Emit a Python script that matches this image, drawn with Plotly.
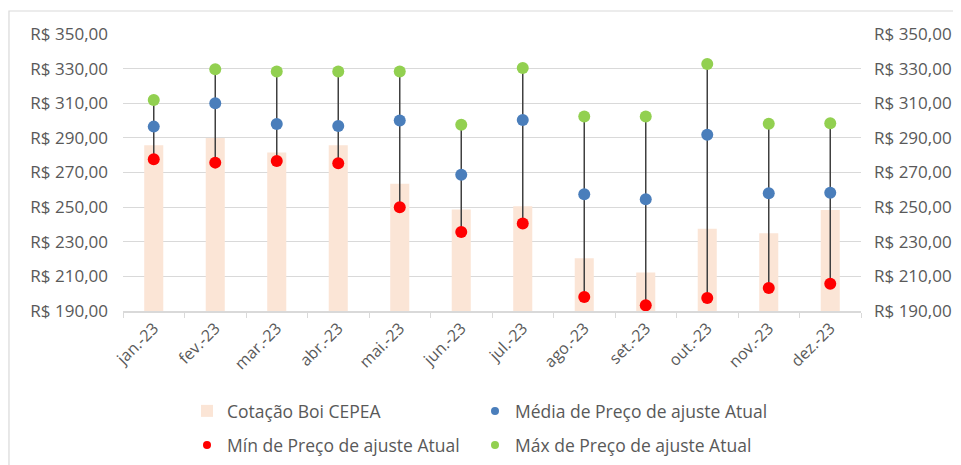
import plotly.graph_objects as go

months = ["jan.-23", "fev.-23", "mar.-23", "abr.-23", "mai.-23", "jun.-23",
          "jul.-23", "ago.-23", "set.-23", "out.-23", "nov.-23", "dez.-23"]
cepea = [285.7, 289.9, 281.6, 285.7, 263.5, 248.7, 250.5, 220.4, 212.3, 237.5, 234.9, 248.3]
media = [296.5, 310.0, 298.0, 296.9, 300.1, 268.7, 300.3, 257.4, 254.5, 291.8, 258.0, 258.3]
minimo = [277.6, 275.7, 276.6, 275.3, 249.9, 235.6, 240.6, 198.1, 193.3, 197.5, 203.3, 205.8]
maximo = [311.9, 329.6, 328.4, 328.4, 328.4, 297.6, 330.4, 302.4, 302.4, 332.7, 298.2, 298.4]
tick_vals = [190, 210, 230, 250, 270, 290, 310, 330, 350]
tick_text = ["R$ 190,00", "R$ 210,00", "R$ 230,00", "R$ 250,00", "R$ 270,00",
             "R$ 290,00", "R$ 310,00", "R$ 330,00", "R$ 350,00"]

FONT = "Open Sans"
GRAY = "#595959"
C_BAR, C_MED, C_MIN, C_MAX = "#FBE5D6", "#4A7EBB", "#FF0000", "#92D050"

# page body has an 8px margin; figure size/margins compensate for it
W, H, OFF = 953, 457, 8

# vertical range lines from min to max
lx, ly = [], []
for m, lo, hi in zip(months, minimo, maximo):
    lx += [m, m, None]
    ly += [lo, hi, None]

fig = go.Figure()
fig.add_trace(go.Bar(x=months, y=cepea, name="Cotação Boi CEPEA",
                     marker=dict(color=C_BAR, line=dict(width=0)),
                     width=0.31, legend="legend"))
fig.add_trace(go.Scatter(x=lx, y=ly, mode="lines", line=dict(color="#404040", width=1.5),
                         showlegend=False, hoverinfo="skip"))
fig.add_trace(go.Scatter(x=months, y=media, mode="markers", name="Média de Preço de ajuste Atual",
                         marker=dict(color=C_MED, size=12), showlegend=False))
fig.add_trace(go.Scatter(x=months, y=minimo, mode="markers", name="Mín de Preço de ajuste Atual",
                         marker=dict(color=C_MIN, size=12), showlegend=False))
fig.add_trace(go.Scatter(x=months, y=maximo, mode="markers", name="Máx de Preço de ajuste Atual",
                         marker=dict(color=C_MAX, size=12), showlegend=False))
# legend entries (small symbols like the original)
for nm, col, lg in [("Média de Preço de ajuste Atual", C_MED, "legend2"),
                    ("Mín de Preço de ajuste Atual", C_MIN, "legend3"),
                    ("Máx de Preço de ajuste Atual", C_MAX, "legend4")]:
    fig.add_trace(go.Scatter(x=[None], y=[None], mode="markers", name=nm,
                             marker=dict(color=col, size=8), legend=lg))
# invisible trace for the right axis
fig.add_trace(go.Scatter(x=months, y=media, yaxis="y2", mode="markers",
                         marker=dict(opacity=0), showlegend=False, hoverinfo="skip"))

yax = dict(range=[190, 350], tickvals=tick_vals, ticktext=tick_text,
           tickfont=dict(family=FONT, size=17, color=GRAY), showline=False, zeroline=False,
           ticks="", fixedrange=True, automargin=False)

legfont = dict(family=FONT, size=17.5, color=GRAY)


def leg(text_x, row_y):
    return dict(orientation="h", xref="container", yref="container",
                x=(text_x - 40 - OFF) / W, xanchor="left",
                y=1 - (row_y - OFF) / H, yanchor="middle",
                font=legfont, itemwidth=30, bgcolor="rgba(0,0,0,0)")


fig.update_layout(
    width=W, height=H,
    margin=dict(l=123 - OFF, r=100, t=34 - OFF, b=154, autoexpand=False),
    paper_bgcolor="white", plot_bgcolor="white",
    font=dict(family=FONT, color=GRAY),
    xaxis=dict(type="category", range=[-0.5, 11.5], tickangle=-45, automargin=False,
               tickfont=dict(family=FONT, size=16, color=GRAY),
               showline=True, linecolor="#D9D9D9", linewidth=1.5,
               ticks="outside", tickson="boundaries", ticklen=5, tickcolor="#D9D9D9",
               showgrid=False, fixedrange=True),
    yaxis=dict(**yax, showgrid=True, gridcolor="#D9D9D9", gridwidth=1.3, ticklabelstandoff=14),
    yaxis2=dict(**yax, overlaying="y", side="right", showgrid=False, ticklabelstandoff=12),
    legend=leg(227, 411),
    legend2=leg(515, 411),
    legend3=leg(227, 445),
    legend4=leg(515, 445),
    shapes=[dict(type="rect", xref="paper", yref="paper", x0=-0.1545, x1=1.3,
                 y0=-1.0, y1=1.083, line=dict(color="#D9D9D9", width=1.2),
                 fillcolor="rgba(0,0,0,0)", layer="below")],
    showlegend=True,
)

fig.write_html("out.html")
